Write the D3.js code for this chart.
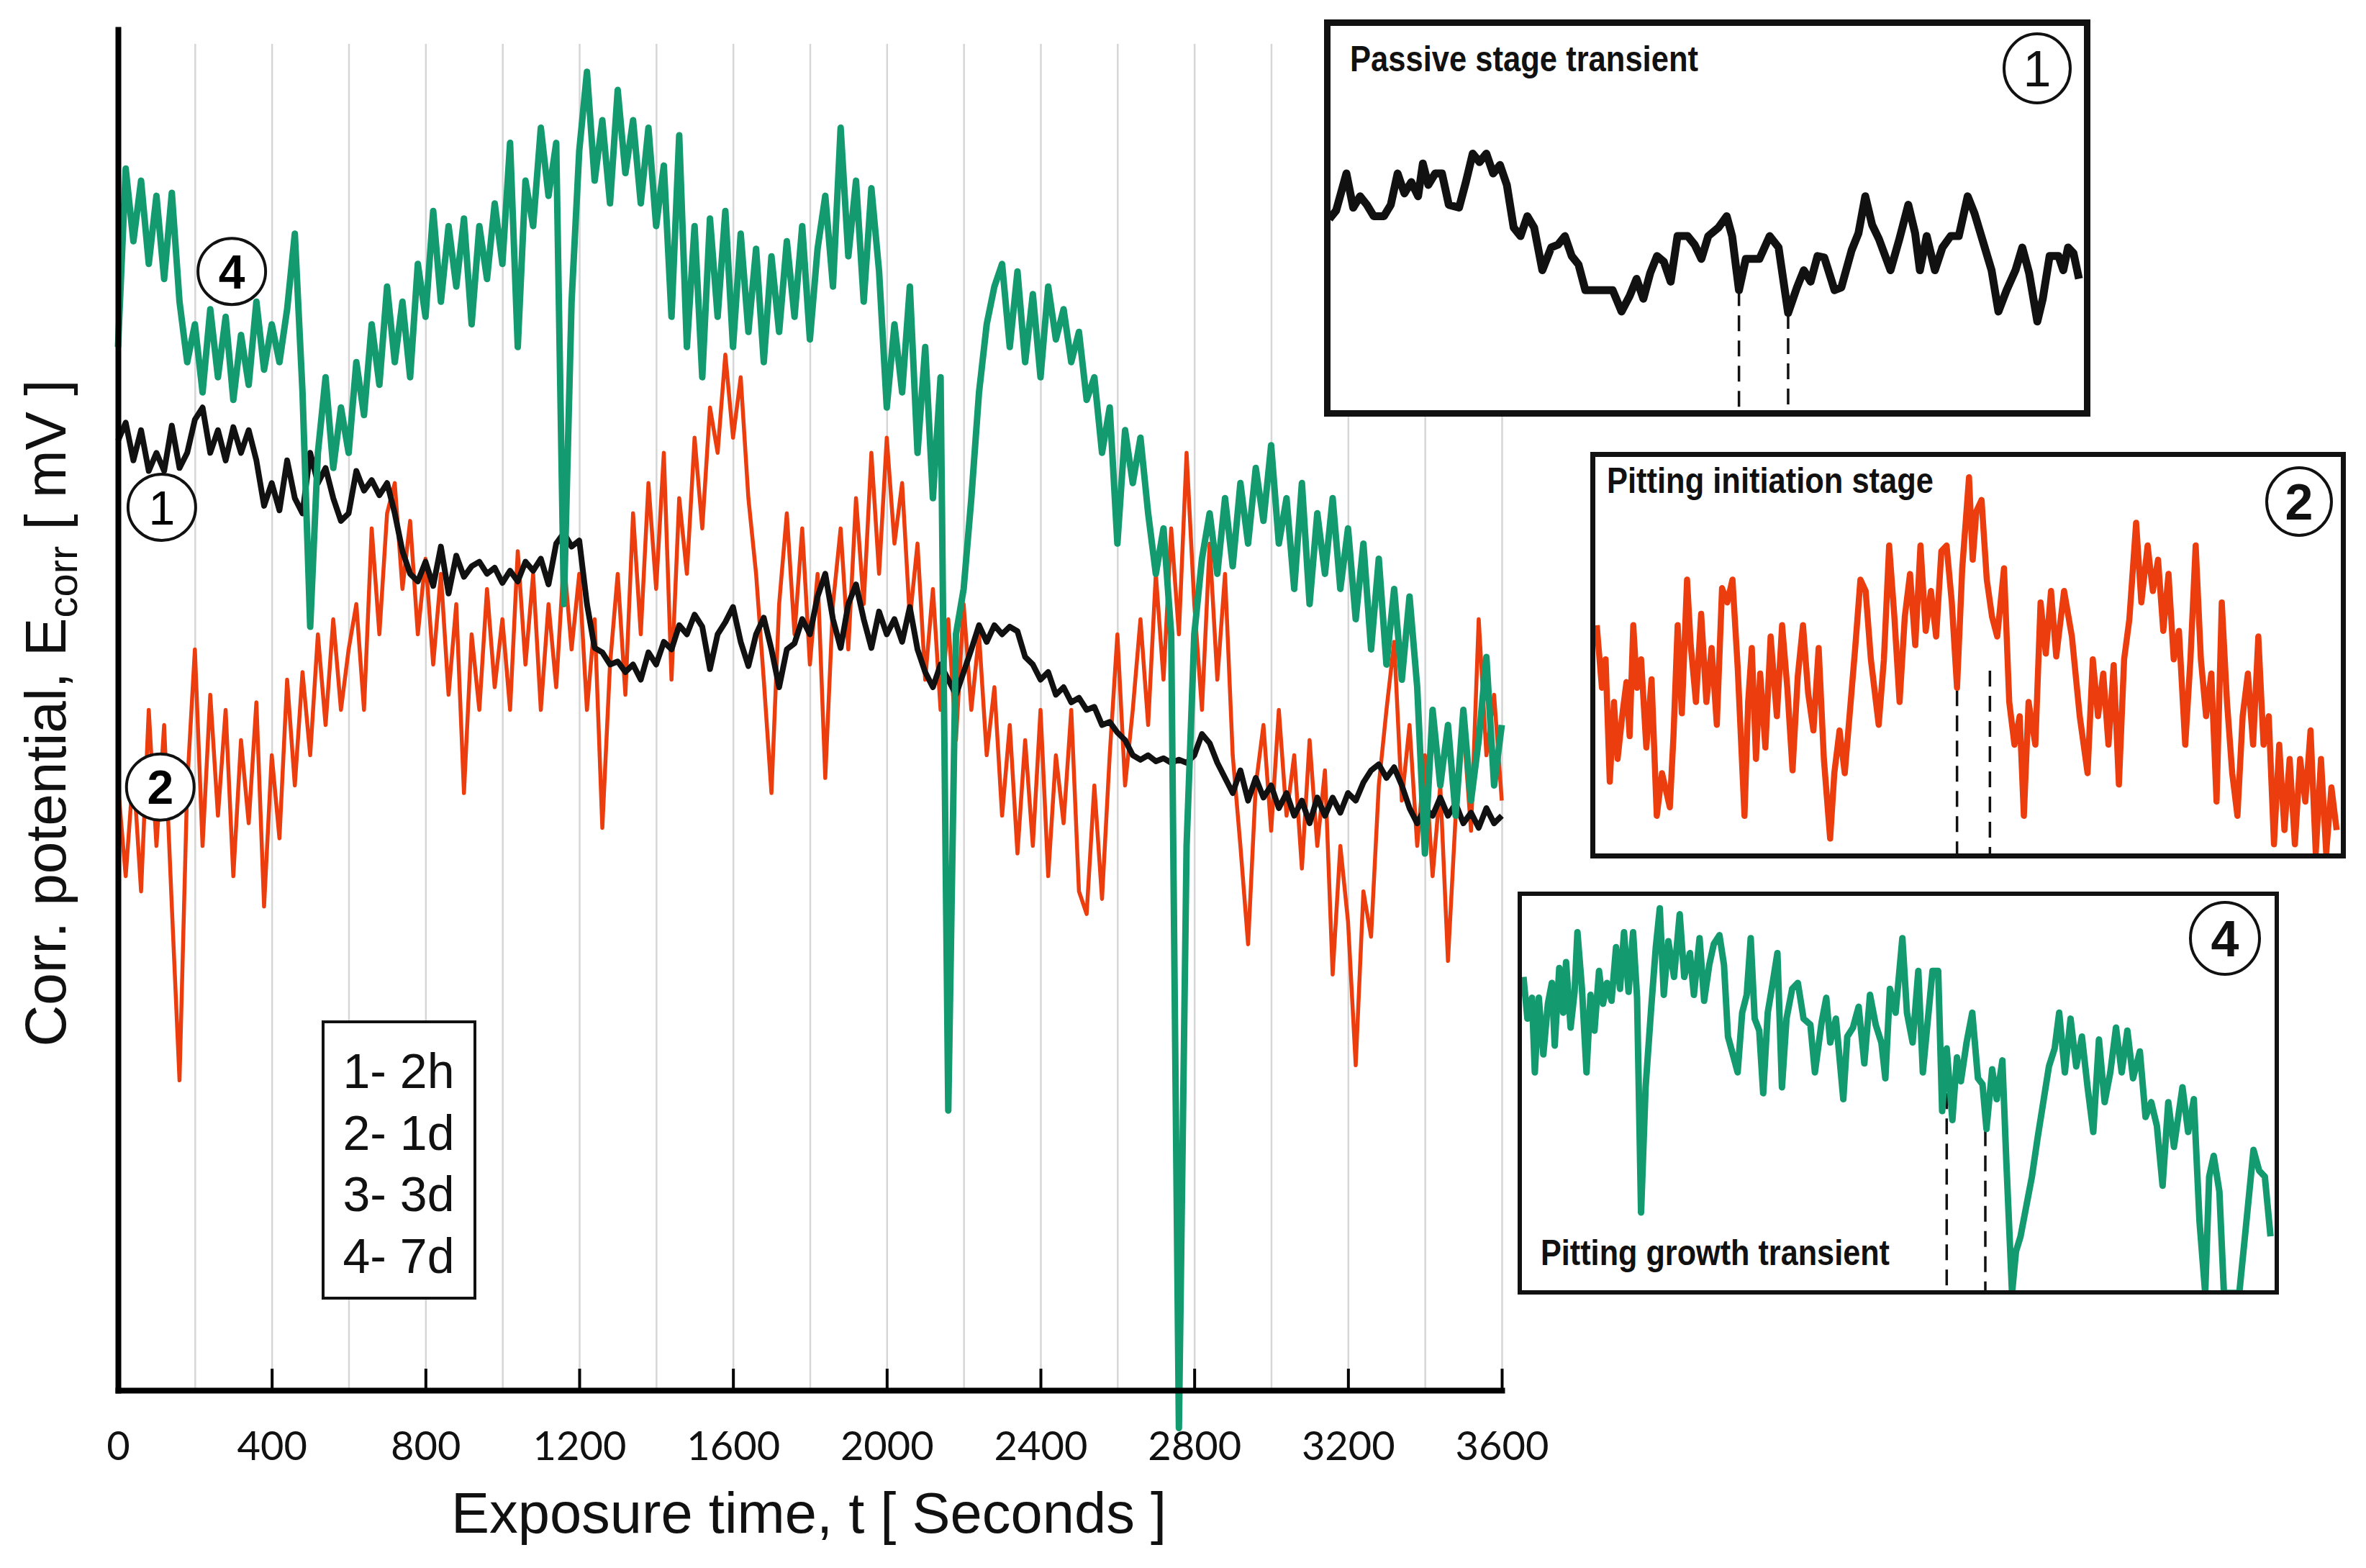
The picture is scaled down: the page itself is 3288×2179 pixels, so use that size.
<!DOCTYPE html>
<html>
<head>
<meta charset="utf-8">
<script src="https://cdn.jsdelivr.net/npm/d3@7"></script>
<style>
  body { margin: 0; background: #fff; }
  svg { display: block; }
</style>
</head>
<body>
<svg id="chart" width="3288" height="2179"></svg>
<script>
// ----- data -----
// readings every 20 s, Ecorr in mV (relative, axis carries no labels)
const sampleStep = 20;

// curve 1 - 2h (black)
const e1 = [-292,-280,-305,-285,-312,-300,-312,-282,-310,-300,-278,
  -270,-300,-285,-305,-283,-300,-285,-305,-335,-320,
  -338,-305,-330,-340,-300,-320,-310,-330,-345,-340,
  -312,-325,-318,-328,-320,-340,-365,-380,-385,-372,
  -388,-362,-393,-368,-382,-375,-372,-380,-376,-386,
  -378,-385,-372,-378,-370,-387,-360,-353,-362,-358,
  -400,-429,-432,-440,-438,-445,-440,-450,-432,-440,
  -425,-430,-414,-420,-407,-415,-443,-420,-412,-402,
  -425,-441,-420,-409,-430,-455,-430,-426,-410,-420,
  -395,-380,-410,-429,-400,-387,-410,-429,-405,-420,
  -410,-425,-402,-430,-445,-455,-440,-450,-460,-445,
  -430,-414,-425,-414,-420,-415,-418,-435,-440,-450,
  -445,-460,-455,-465,-462,-470,-468,-480,-478,-485,
  -490,-500,-503,-500,-504,-502,-505,-503,-505,-500,
  -486,-492,-505,-515,-525,-510,-530,-515,-528,-520,
  -535,-525,-540,-530,-545,-528,-540,-528,-538,-525,
  -530,-518,-510,-506,-515,-508,-520,-535,-545,-535,
  -540,-528,-540,-532,-545,-538,-548,-535,-545,-540];

// curve 2 - 1d (red)
const e2 = [-520,-580,-510,-590,-470,-560,-480,-600,-715,-520,-430,
  -560,-460,-540,-470,-580,-490,-545,-465,-600,-500,
  -555,-450,-520,-445,-500,-420,-480,-410,-470,-430,
  -400,-470,-350,-420,-340,-320,-390,-345,-420,-370,
  -440,-380,-460,-400,-525,-420,-470,-390,-455,-410,
  -470,-365,-440,-380,-470,-400,-455,-370,-430,-380,
  -470,-410,-548,-440,-380,-460,-340,-420,-320,-390,
  -300,-450,-330,-380,-290,-350,-270,-300,-235,-290,
  -250,-330,-380,-450,-525,-400,-340,-420,-350,-440,
  -380,-515,-400,-350,-430,-330,-400,-300,-380,-290,
  -360,-320,-410,-360,-450,-390,-470,-410,-490,-400,
  -470,-420,-500,-455,-540,-480,-565,-490,-560,-470,
  -580,-500,-545,-470,-590,-605,-520,-595,-500,-420,
  -520,-470,-410,-480,-380,-450,-350,-420,-300,-400,
  -470,-360,-450,-380,-500,-560,-625,-520,-480,-550,
  -470,-540,-500,-575,-490,-560,-510,-645,-560,-610,
  -705,-590,-620,-520,-470,-425,-530,-480,-560,-500,
  -580,-520,-636,-540,-480,-550,-410,-500,-460,-530];

// curve 4 - 7d (green)
const e4 = [-230,-112,-160,-120,-175,-130,-185,-128,-200,-240,-215,
  -260,-205,-250,-210,-265,-222,-255,-200,-245,-215,
  -240,-205,-155,-260,-415,-300,-250,-310,-270,-300,
  -240,-275,-215,-255,-190,-240,-200,-250,-175,-210,
  -140,-200,-150,-190,-145,-215,-150,-185,-135,-175,
  -95,-230,-120,-150,-85,-130,-95,-400,-200,-100,
  -48,-120,-80,-135,-60,-115,-80,-135,-85,-150,
  -110,-210,-90,-230,-150,-250,-145,-210,-140,-230,
  -155,-220,-165,-240,-170,-220,-160,-210,-150,-225,
  -165,-130,-190,-85,-170,-120,-200,-125,-180,-270,
  -215,-260,-190,-300,-230,-330,-250,-735,-420,-390,
  -330,-260,-215,-190,-175,-230,-180,-240,-195,-250,
  -190,-225,-205,-240,-220,-265,-250,-300,-270,-360,
  -285,-320,-290,-340,-380,-350,-420,-945,-560,-420,
  -370,-340,-380,-330,-375,-320,-360,-310,-345,-295,
  -360,-330,-390,-320,-400,-340,-380,-330,-390,-350,
  -410,-360,-430,-370,-440,-390,-450,-395,-455,-565,
  -470,-520,-480,-540,-470,-530,-490,-435,-520,-480];

const xTicks = [0, 400, 800, 1200, 1600, 2000, 2400, 2800, 3200, 3600];
const gridTimes = [200, 400, 600, 800, 1000, 1200, 1400, 1600, 1800, 2000,
  2200, 2400, 2600, 2800, 3000, 3200, 3400, 3600];
const legendLines = ["1- 2h", "2- 1d", "3- 3d", "4- 7d"];
const curveLabels = [
  {label: "4", t: 296, e: -180},
  {label: "1", t: 114, e: -336},
  {label: "2", t: 110, e: -521}
];

// insets: [time in window, relative potential]
const inset1 = [[50,-77],[60,-74],[75,-61],[85,-73],[95,-69],[105,-72],[115,-76],[130,-76],[140,-72],[150,-61],
  [160,-68],[170,-64],[180,-69],[187,-57.5],[195,-65],[205,-61],[215,-61],[225,-72],[240,-73],[250,-64],
  [260,-54],[270,-57],[280,-54],[290,-61],[300,-58],[310,-65],[320,-80],[330,-83],[340,-76],[350,-80],
  [362,-95],[375,-87],[385,-86],[395,-83],[405,-90],[415,-93],[425,-102],[445,-102],[465,-102],[478,-109.5],
  [490,-104],[500,-98],[510,-105],[520,-96],[530,-90],[540,-92],[550,-99],[560,-83],[575,-83],[585,-86],
  [595,-91],[605,-83],[620,-80],[632,-76],[640,-83],[650,-102],[660,-91],[680,-91],[695,-83],[708,-87],
  [722,-110],[735,-101],[745,-95],[755,-99],[765,-90],[775,-90.5],[790,-102],[800,-101],[815,-88],[825,-82],
  [835,-69],[845,-79],[855,-84],[872,-95],[885,-84],[898,-72],[908,-82],[915,-95],[925,-83],[937,-95],
  [948,-87],[960,-83],[972,-83],[985,-69],[995,-75],[1005,-83],[1020,-95],[1030,-109.5],[1042,-102],[1055,-95],
  [1065,-87],[1075,-96],[1087,-113],[1095,-105],[1105,-90],[1118,-90],[1125,-95],[1132,-87],[1140,-89],[1148,-98]];

const inset2 = [[95,-68],[105,-90],[112,-80],[120,-123],[128,-95],[135,-115],[145,-98],[152,-88],[158,-107],[165,-68],
  [172,-90],[180,-80],[190,-111],[200,-87],[210,-135],[220,-120],[235,-132],[242,-107],[250,-68],[258,-99],
  [268,-52],[275,-75],[285,-95],[295,-64],[305,-95],[315,-76],[325,-103],[335,-55],[345,-60],[355,-52],
  [365,-83],[378,-135],[385,-95],[392,-76],[400,-115],[408,-85],[418,-111],[428,-72],[440,-100],[450,-68],
  [460,-90],[470,-119],[480,-86],[490,-68],[500,-92],[510,-105],[520,-76],[530,-115],[542,-143],[550,-120],
  [560,-105],[570,-120],[580,-98],[590,-76],[600,-52],[610,-56],[620,-80],[635,-103],[645,-80],[655,-40],
  [665,-65],[675,-95],[685,-65],[695,-50],[705,-75],[715,-40],[725,-70],[735,-56],[745,-72],[755,-42],
  [765,-40],[775,-60],[785,-90],[795,-48],[808,-16],[815,-45],[822,-28],[832,-24],[842,-52],[852,-65],
  [862,-72],[875,-48],[885,-95],[895,-110],[905,-100],[913,-135],[922,-95],[935,-110],[945,-60],[955,-78],
  [965,-56],[975,-79],[990,-56],[1005,-72],[1020,-100],[1035,-120],[1045,-80],[1055,-100],[1065,-85],[1075,-110],
  [1085,-82],[1095,-124],[1105,-80],[1115,-66],[1128,-32],[1138,-60],[1150,-40],[1160,-56],[1170,-45],[1180,-70],
  [1190,-50],[1200,-80],[1210,-70],[1222,-110],[1232,-80],[1242,-40],[1252,-80],[1262,-100],[1272,-85],[1282,-130],
  [1292,-60],[1302,-95],[1312,-120],[1322,-135],[1332,-100],[1342,-85],[1352,-110],[1362,-72],[1372,-110],[1382,-100],
  [1392,-145],[1402,-110],[1412,-140],[1422,-115],[1432,-145],[1442,-115],[1452,-130],[1462,-105],[1472,-148],[1482,-115],
  [1492,-148],[1502,-125],[1512,-140]];

const inset4 = [[85,-38],[92,-52],[100,-45],[105,-70],[112,-45],[120,-64],[128,-47],[135,-40],[140,-61],[148,-35],
  [155,-50],[160,-33],[168,-55],[175,-43],[180,-23],[188,-42],[196,-70],[203,-44],[210,-56],[218,-36],
  [225,-47],[232,-40],[240,-46],[248,-28],[255,-42],[262,-23],[270,-43],[278,-23],[285,-45],[292,-117],
  [300,-75],[310,-48],[318,-28],[325,-15],[332,-44],[340,-26],[350,-38],[360,-17],[368,-38],[378,-30],
  [385,-44],[395,-25],[403,-46],[412,-34],[420,-27],[430,-24],[438,-34],[445,-58],[455,-65],[462,-70],
  [470,-50],[478,-44],[485,-25],[492,-52],[500,-56],[507,-77],[515,-50],[522,-42],[532,-30],[540,-75],
  [548,-52],[558,-42],[568,-40],[578,-52],[590,-54],[598,-70],[610,-53],[618,-45],[625,-60],[635,-52],
  [648,-79],[655,-58],[665,-55],[675,-48],[685,-67],[695,-44],[705,-54],[715,-60],[722,-72],[730,-42],
  [740,-50],[752,-25],[760,-50],[770,-60],[780,-36],[788,-70],[795,-56],[805,-36],[815,-36],[822,-83],
  [830,-62],[840,-86],[848,-65],[855,-73],[865,-60],[875,-50],[885,-72],[893,-74],[900,-89],[910,-69],
  [918,-79],[928,-66],[935,-100],[945,-144],[952,-130],[960,-125],[970,-115],[980,-105],[990,-92],[1000,-80],
  [1010,-68],[1020,-62],[1028,-50],[1038,-70],[1048,-52],[1058,-68],[1068,-58],[1078,-75],[1088,-90],[1098,-59],
  [1108,-80],[1118,-70],[1128,-55],[1138,-70],[1148,-56],[1158,-72],[1170,-63],[1180,-85],[1190,-80],[1200,-88],
  [1210,-108],[1220,-80],[1230,-95],[1245,-75],[1255,-90],[1265,-79],[1275,-120],[1285,-144],[1292,-105],[1300,-98],
  [1310,-110],[1318,-144],[1330,-144],[1345,-144],[1355,-125],[1370,-96],[1380,-103],[1390,-105],[1400,-125]];

// transient markers [time, top of dashed line]
const dash1 = [[650,-102],[722,-110]];
const dash2 = [[785,-82],[848,-84]];
const dash4 = [[830,-77],[898,-81]];

// ----- drawing -----
const svg = d3.select("#chart");
const black = "#111111", red = "#ec3d0e", green = "#139a6e";

// Part 1: scales for the main panel
const xScale = d3.scaleLinear().domain([0, 3600]).range([164, 2087]);
const yScale = d3.scaleLinear().domain([-920, -20]).range([1932, 41]);

// Part 2: gridlines
const gridG = svg.append("g")
                 .attr("transform", `translate(0, 1932)`);
gridG.call(d3.axisBottom(xScale)
              .tickValues(gridTimes)
              .tickSize(-(1932 - 61))
              .tickFormat(""));
gridG.select(".domain").remove();
gridG.selectAll("line").attr("stroke", "#d6d6d6").attr("stroke-width", 2.5);

// Part 3: traces
const line = d3.line()
               .x((d, i) => xScale(i * sampleStep))
               .y(d => yScale(d));
const series = [
  {values: e2, color: red, width: 5.5},
  {values: e1, color: black, width: 8},
  {values: e4, color: green, width: 9}
];
svg.append("g").selectAll("path")
   .data(series)
   .join("path")
   .attr("d", d => line(d.values))
   .attr("fill", "none")
   .attr("stroke", d => d.color)
   .attr("stroke-width", d => d.width)
   .attr("stroke-linejoin", "round");

// Part 4: axes
const xAxisG = svg.append("g")
                  .attr("transform", `translate(0, 1932)`);
xAxisG.call(d3.axisBottom(xScale)
               .tickValues(xTicks)
               .tickFormat(d3.format("d"))
               .tickSizeInner(-30)
               .tickSizeOuter(0)
               .tickPadding(57));
xAxisG.select(".domain").attr("stroke-width", 8).attr("stroke-linecap", "square");
xAxisG.selectAll(".tick line").attr("stroke-width", 4);
xAxisG.selectAll(".tick text")
      .attr("font-family", "Lato, 'Open Sans', sans-serif")
      .attr("font-size", 56)
      .attr("fill", "#111");
xAxisG.selectAll(".tick").filter(d => d === 0).select("line").remove();

const yAxisG = svg.append("g")
                  .attr("transform", `translate(164, 0)`);
yAxisG.call(d3.axisLeft(yScale).ticks(0).tickSizeOuter(0));
yAxisG.select(".domain").attr("stroke-width", 8).attr("stroke-linecap", "square");

// axis titles
svg.append("text")
   .attr("x", 1124)
   .attr("y", 2130)
   .attr("text-anchor", "middle")
   .attr("font-family", "'Liberation Sans', Arial, sans-serif")
   .attr("font-size", 79.5)
   .attr("fill", "#111")
   .text("Exposure time, t [ Seconds ]");

const yTitle = svg.append("text")
   .attr("transform", "translate(91, 991) rotate(-90)")
   .attr("text-anchor", "middle")
   .attr("font-family", "'Liberation Sans', Arial, sans-serif")
   .attr("font-size", 80)
   .attr("fill", "#111");
yTitle.append("tspan").text("Corr. potential, E");
yTitle.append("tspan").attr("font-size", 58).attr("dy", 16).text("corr");
yTitle.append("tspan").attr("dy", -16).text(" [ mV ]");

// Part 5: curve labels
const labelG = svg.append("g").selectAll("g")
   .data(curveLabels)
   .join("g")
   .attr("transform", d => `translate(${xScale(d.t)}, ${yScale(d.e)})`);
labelG.append("ellipse")
      .attr("rx", 47).attr("ry", 46)
      .attr("fill", "#fff")
      .attr("stroke", black)
      .attr("stroke-width", 4);
labelG.append("text")
      .attr("text-anchor", "middle")
      .attr("dy", "0.36em")
      .attr("font-family", "'Liberation Sans', Arial, sans-serif")
      .attr("font-weight", d => d.label === "1" ? "normal" : "bold")
      .attr("font-size", 66)
      .text(d => d.label);

// legend
const legendG = svg.append("g");
legendG.append("rect")
       .attr("x", 449).attr("y", 1420)
       .attr("width", 211).attr("height", 384)
       .attr("fill", "#fff")
       .attr("stroke", black)
       .attr("stroke-width", 4);
legendG.selectAll("text")
       .data(legendLines)
       .join("text")
       .attr("x", 554)
       .attr("y", (d, i) => 1512 + i * 85.5)
       .attr("text-anchor", "middle")
       .attr("font-family", "'Liberation Sans Narrow', 'Liberation Sans', sans-serif")
       .attr("font-size", 68)
       .attr("fill", "#111")
       .text(d => d);

// Part 6: insets
function drawInset(cfg) {
  const g = svg.append("g");
  const xS = d3.scaleLinear().domain(cfg.xDomain).range([cfg.x, cfg.x + cfg.w]);
  const yS = d3.scaleLinear().domain(cfg.yDomain).range([cfg.y + cfg.h, cfg.y]);
  g.append("rect")
   .attr("x", cfg.x).attr("y", cfg.y)
   .attr("width", cfg.w).attr("height", cfg.h)
   .attr("fill", "#fff");
  const clipId = "clip" + cfg.id;
  g.append("clipPath").attr("id", clipId)
   .append("rect")
   .attr("x", cfg.x).attr("y", cfg.y)
   .attr("width", cfg.w).attr("height", cfg.h);
  g.selectAll("line.dash")
   .data(cfg.dashes)
   .join("line")
   .attr("class", "dash")
   .attr("x1", d => xS(d[0])).attr("x2", d => xS(d[0]))
   .attr("y1", d => yS(d[1])).attr("y2", yS(cfg.yDomain[0]))
   .attr("stroke", black)
   .attr("stroke-width", 3.5)
   .attr("stroke-dasharray", "22,13");
  g.append("path")
   .attr("clip-path", `url(#${clipId})`)
   .attr("d", d3.line().x(d => xS(d[0])).y(d => yS(d[1]))(cfg.data))
   .attr("fill", "none")
   .attr("stroke", cfg.color)
   .attr("stroke-width", cfg.lw)
   .attr("stroke-linejoin", "round");
  g.append("rect")
   .attr("x", cfg.x).attr("y", cfg.y)
   .attr("width", cfg.w).attr("height", cfg.h)
   .attr("fill", "none")
   .attr("stroke", black)
   .attr("stroke-width", cfg.bw);
  g.append("text")
   .attr("x", cfg.titleX).attr("y", cfg.titleY)
   .attr("font-family", "'Liberation Sans Narrow', 'Liberation Sans', sans-serif")
   .attr("font-weight", "bold")
   .attr("font-size", 50)
   .attr("textLength", cfg.titleLen)
   .attr("lengthAdjust", "spacingAndGlyphs")
   .attr("fill", "#111")
   .text(cfg.title);
  g.append("ellipse")
   .attr("cx", cfg.cx).attr("cy", cfg.cy)
   .attr("rx", cfg.r).attr("ry", cfg.r + 2)
   .attr("fill", "#fff")
   .attr("stroke", black)
   .attr("stroke-width", 4);
  g.append("text")
   .attr("x", cfg.cx).attr("y", cfg.cy)
   .attr("dy", "0.36em")
   .attr("text-anchor", "middle")
   .attr("font-family", "'Liberation Sans Narrow', 'Liberation Sans', sans-serif")
   .attr("font-weight", cfg.numWeight)
   .attr("font-size", 70)
   .attr("fill", "#111")
   .text(cfg.num);
}

drawInset({id: 1, x: 1844.5, y: 31.5, w: 1056, h: 543, bw: 9,
  xDomain: [47, 1160], yDomain: [-145.3, -8.0],
  data: inset1, dashes: dash1, color: black, lw: 11,
  title: "Passive stage transient", titleX: 1876, titleY: 99, titleLen: 484,
  cx: 2831, cy: 95, r: 46, num: "1", numWeight: "normal"});

drawInset({id: 2, x: 2213.5, y: 631.5, w: 1043, h: 558, bw: 7,
  xDomain: [87.5, 1524.8], yDomain: [-149.1, -8.0],
  data: inset2, dashes: dash2, color: red, lw: 8.5,
  title: "Pitting  initiation  stage", titleX: 2233, titleY: 685, titleLen: 454,
  cx: 3195, cy: 697, r: 45, num: "2", numWeight: "bold"});

drawInset({id: 4, x: 2112, y: 1242, w: 1052, h: 554, bw: 6,
  xDomain: [78.5, 1411], yDomain: [-143.8, -10.1],
  data: inset4, dashes: dash4, color: green, lw: 9,
  title: "Pitting growth transient", titleX: 2141, titleY: 1758, titleLen: 485,
  cx: 3092, cy: 1304, r: 48, num: "4", numWeight: "bold"});
</script>
</body>
</html>
